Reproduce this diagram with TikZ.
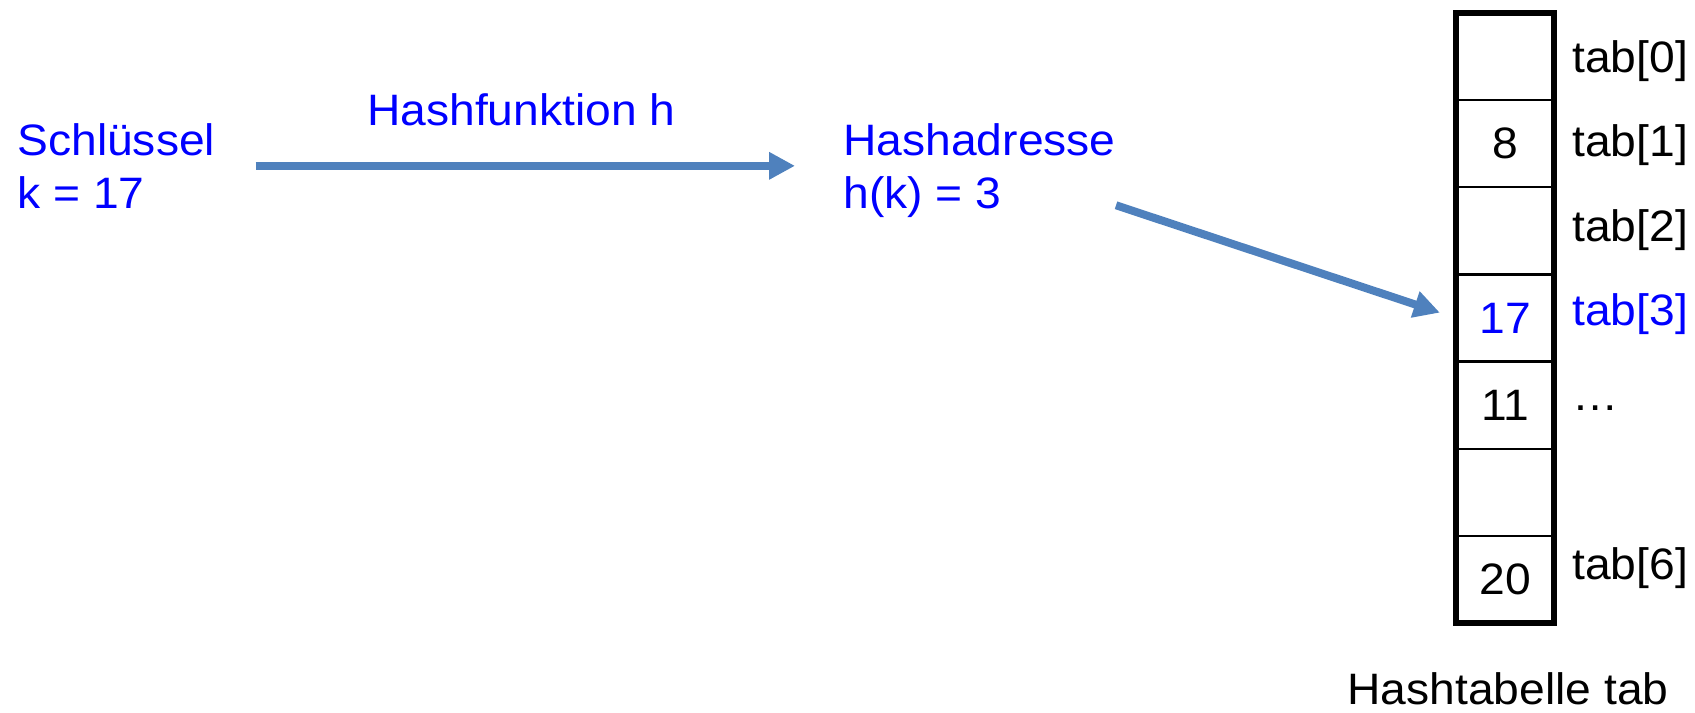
\documentclass[tikz,border=0pt]{standalone}
\usepackage{fontspec}
\setmainfont[FakeStretch=1.05]{Liberation Sans}
\usetikzlibrary{arrows.meta,calc,positioning}
\definecolor{Flow}{HTML}{4F81BD}
\definecolor{Key}{HTML}{0000FF}

\begin{document}
\begin{tikzpicture}[x=0.5pt,y=-0.5pt,
    every node/.style={font=\fontsize{22}{26.5}\selectfont,inner sep=0pt},
    info/.style={text=Key,align=left,anchor=north west},
    flow/.style={Flow,line width=4pt,-{Triangle[length=13pt,width=13pt]}},
    slot/.style={draw,line width=1.2pt,outer sep=0pt,
      minimum width=49pt,minimum height=43.57pt}]
    \useasboundingbox (0,0) rectangle (1695,712);

    % key and its hash address
    \node[info] (key) at (17,123) {Schlüssel\\k = 17};
    \node[info] (addr) at (843,123.5) {Hashadresse\\h(k) = 3};

    % the table, one slot per row
    \foreach \i/\val/\col in {
      0//black,1/8/black,2//black,3/17/Key,4/11/black,5//black,6/20/black}
      {
        \node[slot,text=\col] (cell\i) at (1505,{13+87.14*(\i+0.5)}) {\val};
      }
    \draw[line width=3pt] (cell0.north west) rectangle (cell6.south east);

    \foreach \i/\lab/\col in {
      0/tab[0]/black,1/tab[1]/black,2/tab[2]/black,3/tab[3]/Key,
      4/\dots/black,6/tab[6]/black}
      {
        \node[anchor=base west,text=\col] (lab\i) at (1572,{72+84.5*\i}) {\lab};
      }
    \node[anchor=base] (caption) at (1508,704) {Hashtabelle tab};

    % arrows
    \draw[flow,shorten <=20pt,shorten >=24pt] (key.east) -- (key.east -| addr.west)
      node[midway,above=18pt,xshift=-4pt,text=Key] {Hashfunktion h};
    \draw[flow,shorten >=8.5pt] ([yshift=6.5pt]addr.south east) -- (cell3.west);
  \end{tikzpicture}
\end{document}
